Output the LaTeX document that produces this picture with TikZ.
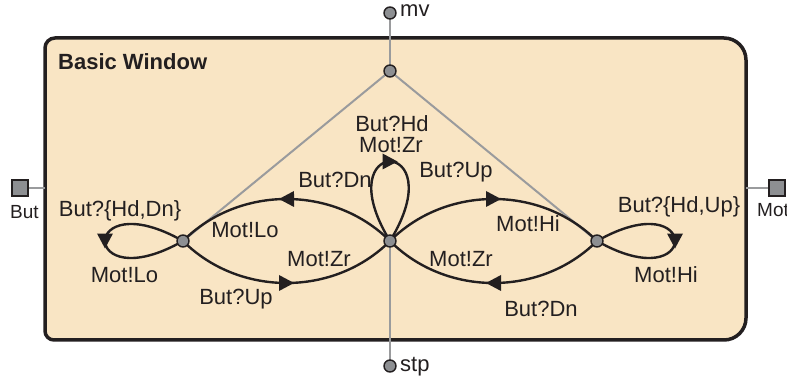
\documentclass[tikz,border=0pt]{standalone}
\usepackage{fontspec}
\setmainfont{Liberation Sans}
\usetikzlibrary{decorations.markings}
\definecolor{ink}{HTML}{231F20}
\definecolor{peach}{HTML}{F9E5C4}
\definecolor{dotgray}{HTML}{8D8F92}
\definecolor{linegray}{HTML}{9A9B9D}
\pgfdeclarelayer{bg}
\pgfdeclarelayer{edgelayer}
\pgfsetlayers{bg,edgelayer,main}
\tikzset{
  dot/.style={circle, draw=ink, line width=1.4pt, fill=dotgray, minimum size=12pt, inner sep=0pt},
  portbox/.style={rectangle, draw=ink, line width=1.8pt, fill=dotgray, minimum size=16pt, inner sep=0pt},
  lbl/.style={anchor=base, inner sep=0pt, text=ink, font=\fontsize{22}{26}\selectfont},
  lblw/.style={anchor=base west, inner sep=0pt, text=ink, font=\fontsize{22}{26}\selectfont},
  graywire/.style={draw=linegray, line width=2pt},
  trans/.style={draw=ink, line width=2.4pt, postaction={decorate},
    decoration={markings, mark=at position 0.5 with {\fill[ink] (7.5pt,0pt) -- (-7.5pt,8pt) -- (-7.5pt,-8pt) -- cycle;}}},
}
\begin{document}
\begin{tikzpicture}[x=1pt, y=1pt]
\useasboundingbox (0,0) rectangle (787,380);
% nodes
\node[dot] (L) at (183,139) {};
\node[dot] (M) at (390,139) {};
\node[dot] (R) at (597,139) {};
\node[dot] (T) at (390,309) {};
\node[dot] (mv) at (390,367) {};
\node[dot] (stp) at (390,14) {};
\node[portbox] (But) at (20,192) {};
\node[portbox] (Mot) at (777,192) {};
\coordinate (bl) at (45,192);
\coordinate (br) at (746,192);
% box
\begin{pgfonlayer}{bg}
\draw[ink, line width=3.5pt, fill=peach]
  (45,49) -- (45,332) arc[start angle=180, end angle=90, radius=10]
  -- (724,342) arc[start angle=90, end angle=0, radius=22]
  -- (746,62) arc[start angle=0, end angle=-90, radius=22]
  -- (54,40) arc[start angle=270, end angle=180, radius=9] -- cycle;
\end{pgfonlayer}
\begin{pgfonlayer}{edgelayer}
\draw[graywire] (T.center) -- (L.center);
\draw[graywire] (T.center) -- (R.center);
\draw[graywire] (T.center) -- (mv.center);
\draw[graywire] (M.center) -- (stp.center);
\draw[graywire] (But.east) -- (bl);
\draw[graywire] (Mot.west) -- (br);
\draw[trans] (M.center) .. controls (334,195) and (239,195) .. (L.center);
\draw[trans] (L.center) .. controls (239,83) and (334,83) .. (M.center);
\draw[trans] (M.center) .. controls (446,195) and (541,195) .. (R.center);
\draw[trans] (R.center) .. controls (541,83) and (446,83) .. (M.center);
\draw[trans] (M.center) .. controls (325,245) and (455,245) .. (M.center);
\draw[trans] (L.center) .. controls (79,198) and (79,80) .. (L.center);
\draw[trans] (R.center) .. controls (701,198) and (701,80) .. (R.center);
\end{pgfonlayer}
% labels
\node[lblw, font=\fontsize{22}{26}\selectfont\bfseries] (title) at (58,310) {Basic Window};
\node[lblw] (mvl) at (400,363) {mv};
\node[lblw] (stpl) at (400,8) {stp};
\node[lbl, font=\fontsize{19}{23}\selectfont] (butl) at (24.5,161) {But};
\node[lblw, font=\fontsize{19}{23}\selectfont] (motl) at (757,163) {Mot};
\node[lbl] (l1) at (120,163) {But?\{Hd,Dn\}};
\node[lbl] (l2) at (124.5,97) {Mot!Lo};
\node[lbl] (l3) at (245,142) {Mot!Lo};
\node[lbl] (l4) at (335,192) {But?Dn};
\node[lbl] (l5) at (319,113) {Mot!Zr};
\node[lbl] (l6) at (236,75) {But?Up};
\node[lbl] (l7) at (392,248) {But?Hd};
\node[lbl] (l8) at (391,227) {Mot!Zr};
\node[lbl] (l9) at (456,202) {But?Up};
\node[lbl] (l10) at (528,148) {Mot!Hi};
\node[lbl] (l11) at (461,113) {Mot!Zr};
\node[lbl] (l12) at (541,63) {But?Dn};
\node[lbl] (l13) at (679,167) {But?\{Hd,Up\}};
\node[lbl] (l14) at (666,97) {Mot!Hi};
\end{tikzpicture}
\end{document}
